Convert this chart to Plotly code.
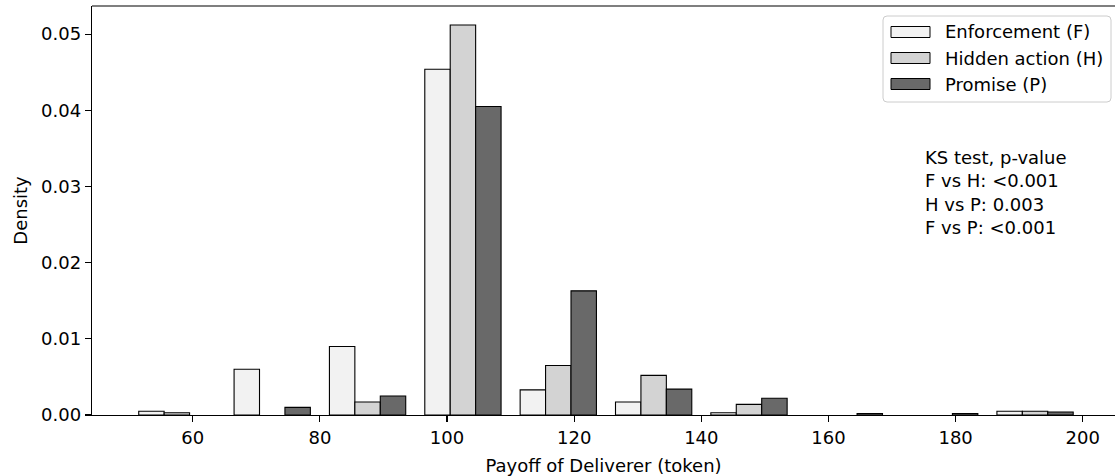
import plotly.graph_objects as go

# ---------------- data ----------------
bin_edges = [50, 65, 80, 95, 110, 125, 140, 155, 170, 185, 200]
enforcement = [0.0005, 0.0060, 0.0090, 0.0454, 0.0033, 0.0017, 0.0003, 0.0, 0.0, 0.0005]
hidden_action = [0.0003, 0.0, 0.0017, 0.0512, 0.0065, 0.0052, 0.0014, 0.0, 0.0, 0.0005]
promise = [0.0, 0.0010, 0.0025, 0.0405, 0.0163, 0.0034, 0.0022, 0.0002, 0.0002, 0.0004]
series_names = ["Enforcement (F)", "Hidden action (H)", "Promise (P)"]
series_colors = ["#f2f2f2", "#d3d3d3", "#696969"]
ks_lines = ["KS test, p-value", "F vs H: <0.001", "H vs P: 0.003", "F vs P: <0.001"]
x_ticks = [60, 80, 100, 120, 140, 160, 180, 200]
y_ticks = [0.00, 0.01, 0.02, 0.03, 0.04, 0.05]

# ---------------- layout geometry ----------------
W, H = 1115, 476
L, R, T, B = 92, 0, 6, 61
PW, PH = W - L - R, H - T - B
FONT = "DejaVu Sans"
FS = 18


def px_x(p):
    return (p - L) / PW


def px_y(p):
    return (T + PH - p) / PH


centers = [(bin_edges[i] + bin_edges[i + 1]) / 2 for i in range(len(bin_edges) - 1)]
series_values = [enforcement, hidden_action, promise]

fig = go.Figure()
for name, vals, col in zip(series_names, series_values, series_colors):
    fig.add_trace(go.Bar(
        x=centers, y=vals, name=name,
        marker=dict(color=col,
                    line=dict(color="#000000", width=[1.1 if v > 0 else 0 for v in vals])),
        showlegend=False,
    ))

shapes = []
annotations = []

# custom legend (matplotlib style)
bx0, bx1, by0, by1 = 883, 1111, 16, 102
rx, ry = 4 / PW, 4 / PH
X0, X1, Y0, Y1 = px_x(bx0), px_x(bx1), px_y(by1), px_y(by0)
path = (f"M {X0+rx},{Y0} L {X1-rx},{Y0} Q {X1},{Y0} {X1},{Y0+ry} "
        f"L {X1},{Y1-ry} Q {X1},{Y1} {X1-rx},{Y1} L {X0+rx},{Y1} "
        f"Q {X0},{Y1} {X0},{Y1-ry} L {X0},{Y0+ry} Q {X0},{Y0} {X0+rx},{Y0} Z")
shapes.append(dict(type="path", xref="paper", yref="paper", path=path,
                   fillcolor="rgba(255,255,255,0.8)", line=dict(color="#cccccc", width=1)))
row_centers = [32, 58, 84]
for name, col, yc in zip(series_names, series_colors, row_centers):
    shapes.append(dict(type="rect", xref="paper", yref="paper",
                       x0=px_x(891), x1=px_x(930), y0=px_y(yc + 5.5), y1=px_y(yc - 5.5),
                       fillcolor=col, line=dict(color="#000000", width=1)))
    annotations.append(dict(xref="paper", yref="paper", x=px_x(943), y=px_y(yc),
                            xanchor="left", yanchor="middle", showarrow=False,
                            text=name, font=dict(family=FONT, size=FS, color="#000000")))

# KS test annotation
annotations.append(dict(xref="paper", yref="paper", x=px_x(923), y=px_y(145),
                        xanchor="left", yanchor="top", align="left", showarrow=False,
                        text="<br>".join(ks_lines),
                        font=dict(family=FONT, size=FS, color="#000000")))

# top spine (right spine falls outside the visible figure)
shapes.append(dict(type="line", xref="paper", yref="paper", x0=0, x1=1, y0=1, y1=1,
                   line=dict(color="#000000", width=1.2)))

fig.update_layout(
    width=W, height=H,
    margin=dict(l=L, r=R, t=T, b=B, autoexpand=False),
    paper_bgcolor="white", plot_bgcolor="white",
    barmode="group", bargap=0.2, bargroupgap=0,
    font=dict(family=FONT, size=FS, color="#000000"),
    shapes=shapes, annotations=annotations,
    hovermode=False,
    xaxis=dict(
        range=[44.15, 44.15 + PW / 6.357],
        tickvals=x_ticks, ticktext=[str(v) for v in x_ticks],
        ticks="outside", ticklen=6, tickwidth=1.2, tickcolor="#000000",
        showline=True, linecolor="#000000", linewidth=1.2, mirror=False,
        showgrid=False, zeroline=False,
        title=dict(text="Payoff of Deliverer (token)", standoff=12,
                   font=dict(family=FONT, size=FS)),
        tickfont=dict(family=FONT, size=FS),
    ),
    yaxis=dict(
        range=[0, 0.0537],
        tickvals=y_ticks, ticktext=[f"{v:.2f}" for v in y_ticks],
        ticks="outside", ticklen=6, tickwidth=1.2, tickcolor="#000000",
        showline=True, linecolor="#000000", linewidth=1.2, mirror=False,
        showgrid=False, zeroline=False,
        title=dict(text="Density", standoff=8, font=dict(family=FONT, size=FS)),
        tickfont=dict(family=FONT, size=FS),
    ),
)

fig.write_html("out.html", config={"displayModeBar": False, "staticPlot": True},
               post_script="document.body.style.margin='0px';")
